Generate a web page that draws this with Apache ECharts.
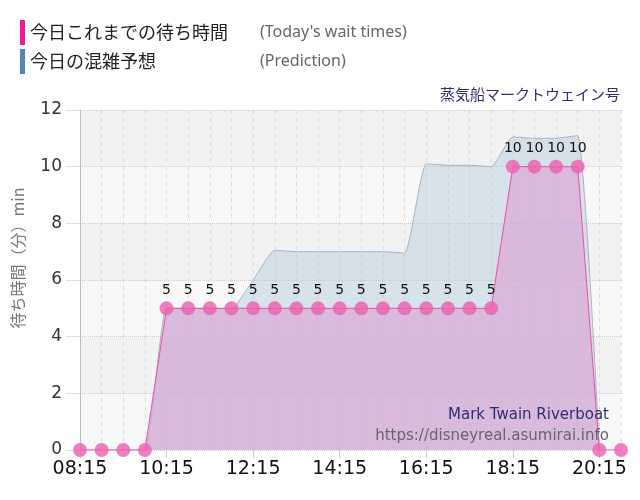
<!DOCTYPE html>
<html lang="ja">
<head>
    <meta charset="UTF-8">
    <title>蒸気船マークトウェイン号 待ち時間</title>
    <script src="https://cdn.jsdelivr.net/npm/echarts@6/dist/echarts.min.js"></script>
    <style>
        html, body { margin: 0; padding: 0; background: #fff; }
        #chart { width: 640px; height: 500px; }
    </style>
</head>
<body>
<div id="chart"></div>
<script>
    // 時刻（30分ごと）
    const times = ['08:15', '08:45', '09:15', '09:45', '10:15', '10:45', '11:15', '11:45',
        '12:15', '12:45', '13:15', '13:45', '14:15', '14:45', '15:15', '15:45',
        '16:15', '16:45', '17:15', '17:45', '18:15', '18:45', '19:15', '19:45',
        '20:15', '20:45'];
    // 今日これまでの待ち時間
    const waitTimes = [0, 0, 0, 0, 5, 5, 5, 5, 5, 5, 5, 5, 5, 5, 5, 5,
        5, 5, 5, 5, 10, 10, 10, 10, 0, 0];
    // 今日の混雑予想
    const prediction = [0, 0, 0, 0, 5, 5, 5, 5, 6, 7.05, 7, 7, 7, 7, 7, 6.95,
        10.1, 10.05, 10.05, 10, 11.05, 11, 11, 11.1, 0, null];
    const yTicks = { min: 0, max: 12, step: 2 };

    const seriesNames = ['今日これまでの待ち時間', '今日の混雑予想'];
    const seriesEnglish = ["(Today's wait times)", '(Prediction)'];

    const jp = '"Noto Sans CJK JP", "Noto Sans", sans-serif';
    const num = '"DejaVu Sans", sans-serif';

    const chart = echarts.init(document.getElementById('chart'));
    const option = {
        backgroundColor: '#fff',
        animation: false,
        title: {
            text: '蒸気船マークトウェイン号',
            right: 15,
            top: 82,
            textStyle: { fontFamily: jp, fontSize: 15, fontWeight: 'normal', color: '#2e2e72' }
        },
        legend: {
            orient: 'vertical',
            left: 15,
            top: 15,
            icon: 'rect',
            itemWidth: 5,
            itemHeight: 25,
            itemGap: 4,
            selectedMode: false,
            data: [
                { name: seriesNames[0], itemStyle: { color: '#f0199b' } },
                { name: seriesNames[1], itemStyle: { color: '#4f86b8' } }
            ],
            formatter: name => `{a|${name}}{b|${seriesEnglish[seriesNames.indexOf(name)]}}`,
            textStyle: {
                rich: {
                    a: { fontFamily: jp, fontSize: 18, color: '#222', width: 230 },
                    b: { fontFamily: '"Noto Sans", sans-serif', fontSize: 16, color: '#666' }
                }
            }
        },
        grid: { left: 80, right: 19, top: 110, bottom: 50 },
        xAxis: {
            type: 'category',
            data: times,
            boundaryGap: false,
            axisLine: { show: false },
            axisTick: { show: true, interval: 3, length: 8, lineStyle: { color: '#ccc' } },
            axisLabel: { interval: 3, fontFamily: num, fontSize: 19, color: '#111', margin: 10 },
            splitLine: { show: true, interval: 0, lineStyle: { color: '#ddd', type: [4, 4] } }
        },
        yAxis: {
            type: 'value',
            min: yTicks.min,
            max: yTicks.max,
            interval: yTicks.step,
            name: '待ち時間（分）min',
            nameLocation: 'middle',
            nameGap: 54,
            nameTextStyle: { fontFamily: jp, fontSize: 16, color: '#777', padding: [0, 0, 0, 44] },
            axisLine: { show: true, lineStyle: { color: '#bbb' } },
            axisTick: { show: true, length: 14, lineStyle: { color: '#ddd' } },
            axisLabel: { fontFamily: num, fontSize: 17, color: '#333', margin: 18 },
            splitLine: { lineStyle: { color: '#ccc', type: 'dotted' } },
            splitArea: { show: true, areaStyle: { color: ['#f8f8f8', '#f2f2f2'] } }
        },
        series: [
            {
                name: seriesNames[1],
                type: 'line',
                data: prediction,
                symbol: 'none',
                smooth: 0.15,
                z: 1,
                lineStyle: { color: '#aab4be', width: 1 },
                itemStyle: { color: '#4f86b8' },
                areaStyle: { color: 'rgba(176,200,220,0.45)', opacity: 1 }
            },
            {
                name: seriesNames[0],
                type: 'line',
                data: waitTimes,
                symbol: 'circle',
                symbolSize: 14,
                showAllSymbol: true,
                z: 3,
                lineStyle: { color: '#ec4fa6', width: 1 },
                itemStyle: { color: 'rgba(235,95,175,0.8)' },
                areaStyle: { color: 'rgba(218,165,212,0.65)', opacity: 1 },
                label: {
                    show: true,
                    position: 'top',
                    distance: 4,
                    fontFamily: num,
                    fontSize: 14,
                    color: '#111',
                    formatter: p => (p.value > 0 ? p.value : '')
                },
                labelLayout: { hideOverlap: false }
            }
        ],
        graphic: [
            {
                type: 'text',
                x: 609,
                y: 415,
                z: 100,
                style: {
                    text: 'Mark Twain Riverboat',
                    fontFamily: '"DejaVu Sans", sans-serif',
                    fontSize: 15,
                    fill: '#2e2e72',
                    align: 'right',
                    verticalAlign: 'middle'
                }
            },
            {
                type: 'text',
                x: 609,
                y: 436,
                z: 100,
                style: {
                    text: 'https://disneyreal.asumirai.info',
                    fontFamily: '"DejaVu Sans", sans-serif',
                    fontSize: 15,
                    fill: '#666',
                    align: 'right',
                    verticalAlign: 'middle'
                }
            }
        ]
    };
    chart.setOption(option);
</script>
</body>
</html>
